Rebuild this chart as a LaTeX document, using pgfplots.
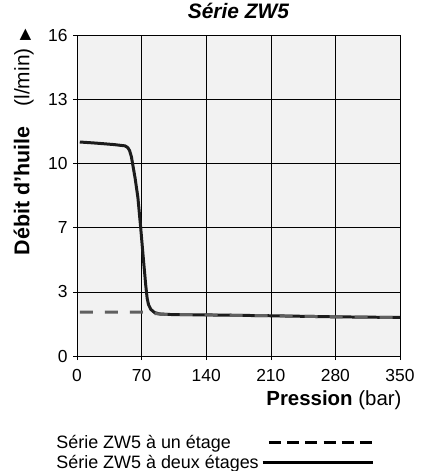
\documentclass[border=0pt]{standalone}
\usepackage{pgfplots}
\pgfplotsset{compat=1.18}
\usepackage{fontspec}
\setmainfont{Liberation Sans}
\newfontfamily\symfont{DejaVu Sans}
\definecolor{bgc}{HTML}{F2F2F2}
\definecolor{solidc}{HTML}{1C1C1C}
\definecolor{dashc}{HTML}{606060}
\begin{document}
\begin{tikzpicture}
\useasboundingbox (0,0) rectangle (433bp,471bp);
\begin{axis}[
  at={(77bp,115bp)}, anchor=south west,
  scale only axis, width=323bp, height=321bp,
  xmin=0, xmax=350, ymin=0, ymax=16,
  y coord trafo/.code={\pgfmathparse{(#1<=3)*(#1/3)+(#1>3)*(#1<=7)*(1+(#1-3)/4)+(#1>7)*(2+(#1-7)/3)}},
  xtick={0,70,140,210,280,350},
  ytick={0,3,7,10,13,16}, yticklabels={0,3,7,10,13,16},
  grid=major, grid style={black, line width=0.6pt},
  axis line style={black, line width=0.8pt},
  tick style={black, line width=0.6pt}, tick align=outside, major tick length=4bp,
  xtick pos=left, ytick pos=left,
  axis background/.style={fill=bgc},
  /pgf/number format/assume math mode=true,
  tick label style={font=\fontsize{17.5}{20}\selectfont},
  xticklabel style={anchor=base, yshift=-21bp},
  yticklabel style={anchor=east, xshift=-2bp},
  title={\textbf{\textit{Série ZW5}}},
  title style={font=\fontsize{21}{24}\selectfont, at={(axis description cs:0.5,1)}, anchor=center, yshift=18bp},
  xlabel={\textbf{Pression} (bar)},
  xlabel style={font=\fontsize{20.5}{24}\selectfont, at={(axis description cs:1,0)}, anchor=east, yshift=-44bp, xshift=5bp},
  ylabel={\textbf{Débit d'huile}\hspace{20bp}{\fontsize{21}{24}\selectfont(l/min)}\hspace{8bp}{\symfont\fontsize{15}{17}\selectfont ▶}},
  ylabel style={font=\fontsize{21.5}{24}\selectfont, at={(axis description cs:-0.165,1.03)}, anchor=east, rotate=0},
  legend style={at={(axis description cs:-0.066,-0.245)}, anchor=north west, draw=none, fill=none, inner sep=0pt,
    font=\fontsize{18}{20}\selectfont, row sep=4bp, column sep=2bp,
    nodes={inner sep=0.5bp}},
  legend cell align=left, legend plot pos=right,
  legend image code/.code={\draw[#1] (0bp,0bp) -- (110bp,0bp);},
]
\addplot[solidc, line width=3pt, line join=round, forget plot] coordinates {
(3,11.0) (20,10.95) (40,10.88) (52,10.82) (55,10.74) (57,10.6) (59,10.3) (61,9.8) (63,9.3) (66,8.4) (69,7.0) (72,5.0) (74.5,3.4) (76,2.7) (77.5,2.4) (80,2.18) (84,2.03) (90,1.96) (100,1.94) (140,1.92) (210,1.88) (280,1.83) (350,1.8)
};
\addplot[dashc, line width=3pt, dash pattern=on 13bp off 12bp, forget plot] coordinates {
(3,2.05) (76,2.05) (85,1.98) (95,1.95) (140,1.92) (210,1.88) (280,1.83) (350,1.8)
};
\addlegendimage{black, line width=3pt, dash pattern=on 12bp off 6.2bp, dash phase=12bp}
\addlegendentry{Série ZW5 à un étage}
\addlegendimage{black, line width=3pt}
\addlegendentry{Série ZW5 à deux étages}
\end{axis}
\end{tikzpicture}
\end{document}
